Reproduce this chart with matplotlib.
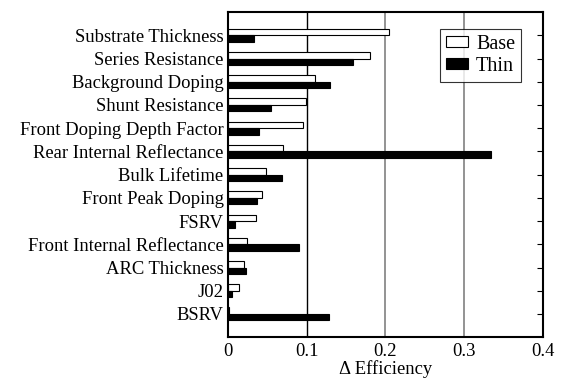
import matplotlib
matplotlib.use("Agg")
import matplotlib.pyplot as plt
import numpy as np

plt.rcParams['font.family'] = ['Liberation Serif', 'DejaVu Serif']

params = ["Substrate Thickness", "Series Resistance", "Background Doping",
          "Shunt Resistance", "Front Doping Depth Factor", "Rear Internal Reflectance",
          "Bulk Lifetime", "Front Peak Doping", "FSRV", "Front Internal Reflectance",
          "ARC Thickness", "J02", "BSRV"]
base = [0.205, 0.180, 0.111, 0.099, 0.095, 0.070, 0.049, 0.044, 0.036, 0.025, 0.021, 0.014, 0.001]
thin = [0.033, 0.159, 0.130, 0.055, 0.040, 0.334, 0.069, 0.037, 0.009, 0.090, 0.023, 0.005, 0.129]

fig = plt.figure(figsize=(5.61, 3.78), dpi=100)
ax = fig.add_axes([0.406, 0.108, 0.562, 0.860])

y = np.arange(len(params))
h = 0.28
ax.axvline(0.1, color='black', lw=1.0, zorder=0)
for v in (0.2, 0.3):
    ax.axvline(v, color='#808080', lw=1.2, zorder=0)

ax.barh(y - h / 2, base, height=h, color='white', edgecolor='black', lw=0.8, label='Base')
ax.barh(y + h / 2, thin, height=h, color='black', edgecolor='black', lw=0.8, label='Thin')

fs = 13.4
ax.set_ylim(len(params), -1)
ax.set_xlim(0, 0.4)
ax.set_yticks(y)
ax.set_yticklabels(params, fontsize=fs)
ax.set_xticks([0, 0.1, 0.2, 0.3, 0.4])
ax.set_xticklabels(['0', '0.1', '0.2', '0.3', '0.4'], fontsize=fs)
ax.tick_params(axis='y', left=False, right=True, direction='in', length=4, pad=3)
ax.tick_params(axis='x', length=0, pad=4)
ax.set_xlabel('\u0394 Efficiency', fontsize=fs, labelpad=0)

for s in ax.spines.values():
    s.set_linewidth(1.5)

leg = ax.legend(loc='upper right', bbox_to_anchor=(0.963, 0.98), fontsize=14.5,
                frameon=True, fancybox=False, edgecolor='black', handlelength=1.1,
                handleheight=0.45, handletextpad=0.4, borderpad=0.3, labelspacing=0.15)
leg.get_frame().set_linewidth(0.8)

fig.savefig("out.png", dpi=100)
